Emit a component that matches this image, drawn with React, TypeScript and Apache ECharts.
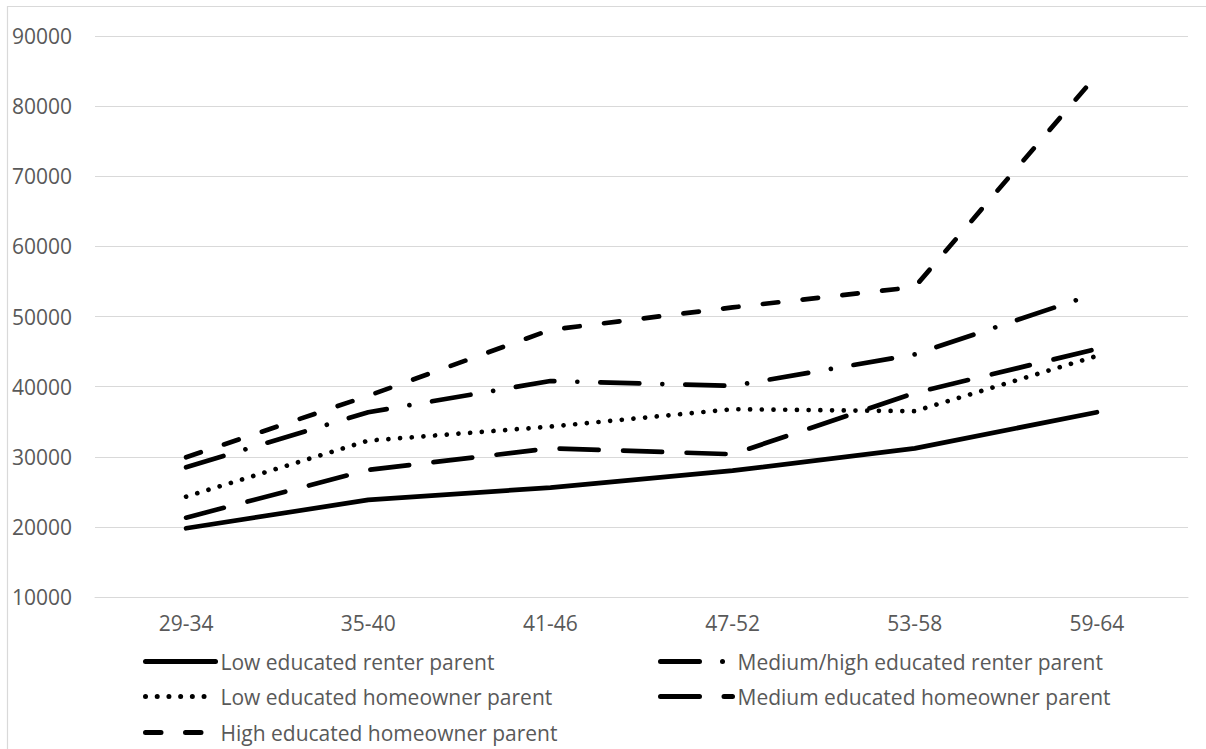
import React, { useEffect, useRef } from "react";
import * as echarts from "echarts";

const categories = ["29-34", "35-40", "41-46", "47-52", "53-58", "59-64"];
const lowRenter = [19800, 23840, 25600, 28020, 31200, 36350];
const medHighRenter = [28500, 36350, 40800, 40100, 44600, 53320];
const lowOwner = [24310, 32300, 34300, 36780, 36500, 44380];
const medOwner = [21310, 28120, 31200, 30360, 39100, 45380];
const highOwner = [29930, 38700, 48100, 51300, 54200, 84460];
const yTicks = { min: 10000, max: 90000, interval: 10000 };

const names = [
  "Low educated renter parent",
  "Medium/high educated renter parent",
  "Low educated homeowner parent",
  "Medium educated homeowner parent",
  "High educated homeowner parent",
];

const FONT = "'Open Sans', sans-serif";
const TXT = "#595959";
const GRID = "#d9d9d9";
const LW = 4.7;

export default function App() {
  const ref = useRef<HTMLDivElement>(null);
  useEffect(() => {
    if (!ref.current) return;
    const chart = echarts.init(ref.current, undefined, { renderer: "svg" });
    const mk = (name: string, data: number[], dash: any) => ({
      name,
      type: "line",
      data,
      symbol: "none",
      showSymbol: false,
      smooth: false,
      color: "#000",
      lineStyle: { color: "#000", width: LW, type: dash, cap: "round", join: "round" },
    });
    const legendBase = {
      orient: "horizontal",
      itemWidth: 70,
      itemHeight: 14,
      padding: 0,
      selectedMode: false,
      textStyle: { fontSize: 21, color: TXT, fontFamily: FONT },
      lineStyle: { width: 5 },
      itemStyle: { opacity: 0 },
    };
    chart.setOption({
      animation: false,
      backgroundColor: "#fff",
      graphic: [
        {
          type: "rect",
          shape: { x: 7.5, y: 6.5, width: 1400, height: 1000 },
          style: { fill: "none", stroke: GRID, lineWidth: 1.2 },
          silent: true,
        },
      ],
      grid: { left: 95, right: 18, top: 36, bottom: 152 },
      legend: [
        { ...legendBase, data: [names[0]], left: 143, top: 651 },
        { ...legendBase, data: [names[2]], left: 143, top: 686 },
        { ...legendBase, data: [names[4]], left: 143, top: 722 },
        { ...legendBase, itemWidth: 72, data: [names[1]], left: 658, top: 651 },
        { ...legendBase, itemWidth: 72, data: [names[3]], left: 658, top: 686 },
      ],
      xAxis: {
        type: "category",
        data: categories,
        boundaryGap: true,
        axisLine: { show: true, lineStyle: { color: GRID, width: 1 } },
        axisTick: { show: false },
        axisLabel: { fontSize: 21, color: TXT, fontFamily: FONT, margin: 15 },
      },
      yAxis: {
        type: "value",
        min: yTicks.min,
        max: yTicks.max,
        interval: yTicks.interval,
        axisLine: { show: false },
        axisTick: { show: false },
        splitLine: { lineStyle: { color: GRID, width: 1 } },
        axisLabel: {
          fontSize: 21,
          color: TXT,
          fontFamily: FONT,
          margin: 23,
          formatter: (v: number) => String(v),
        },
      },
      series: [
        mk(names[0], lowRenter, "solid"),
        mk(names[1], medHighRenter, [39, 23, 0.01, 23]),
        mk(names[2], lowOwner, [0.01, 11.7]),
        mk(names[3], medOwner, [39, 24.5]),
        mk(names[4], highOwner, [15.5, 24.5]),
      ],
    });
    return () => chart.dispose();
  }, []);
  return (
    <div
      ref={ref}
      style={{ position: "fixed", left: 0, top: 0, width: 1206, height: 749 }}
    />
  );
}
